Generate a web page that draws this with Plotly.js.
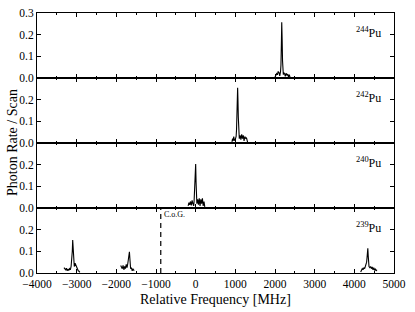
<!DOCTYPE html>
<html><head><meta charset="utf-8">
<script src="https://cdn.plot.ly/plotly-3.0.1.min.js"></script>
<style>html,body{margin:0;padding:0;background:#fff}#c{width:415px;height:312px}</style>
</head><body><div id="c"></div>
<script>
// Spectra (Relative Frequency [MHz], Photon Rate / Scan)
const pu244X = [2000,2020,2040,2060,2080,2100,2120,2140,2150,2160,2170,2180,2190,2200,2210,2220,2240,2260,2280,2300,2320,2340,2360,2380];
const pu244Y = [0.005,0.012,0.02,0.015,0.03,0.025,0.01,0.03,0.06,0.15,0.257,0.18,0.08,0.03,0.015,0.025,0.02,0.008,0.022,0.012,0.018,0.005,0.015,0.003];

const pu242X = [915,930,945,960,975,990,1005,1020,1030,1040,1050,1058,1066,1075,1085,1100,1120,1140,1160,1180,1200,1220,1240,1260,1280,1300,1310];
const pu242Y = [0.005,0.02,0.01,0.03,0.015,0.01,0.02,0.03,0.06,0.12,0.2,0.255,0.2,0.12,0.06,0.02,0.035,0.015,0.04,0.02,0.035,0.01,0.03,0.02,0.025,0.01,0.003];

const pu240X = [-190,-170,-150,-130,-110,-90,-70,-50,-40,-30,-20,-10,0,10,20,30,50,70,90,110,130,150,170,190,210,230];
const pu240Y = [0.01,0.025,0.015,0.03,0.012,0.035,0.02,0.01,0.03,0.06,0.1,0.16,0.203,0.12,0.05,0.02,0.04,0.015,0.045,0.01,0.04,0.02,0.045,0.01,0.03,0.005];

const pu239aX = [-3320,-3300,-3280,-3260,-3240,-3220,-3200,-3180,-3160,-3140,-3120,-3110,-3100,-3090,-3080,-3070,-3060,-3040,-3020,-3000,-2980,-2960,-2940,-2920];
const pu239aY = [0.025,0.02,0.015,0.022,0.01,0.018,0.012,0.02,0.015,0.03,0.06,0.1,0.152,0.1,0.06,0.04,0.03,0.045,0.035,0.02,0.015,0.01,0.008,0.003];
const pu239bX = [-1890,-1870,-1850,-1830,-1810,-1790,-1770,-1750,-1730,-1710,-1690,-1680,-1670,-1660,-1650,-1640,-1620,-1600,-1580,-1560,-1550];
const pu239bY = [0.035,0.03,0.02,0.035,0.015,0.03,0.02,0.04,0.025,0.045,0.07,0.085,0.098,0.07,0.04,0.02,0.025,0.01,0.02,0.012,0.015];
const pu239cX = [4160,4180,4200,4220,4240,4260,4280,4300,4310,4320,4330,4340,4350,4360,4370,4390,4410,4430,4450,4470,4490,4510,4530,4550,4570];
const pu239cY = [0.005,0.012,0.02,0.015,0.025,0.02,0.03,0.035,0.05,0.07,0.09,0.114,0.08,0.05,0.03,0.025,0.03,0.02,0.028,0.015,0.025,0.012,0.02,0.01,0.015];

const cogX = -880;
const isotopeLabels = ['<sup>244</sup>Pu','<sup>242</sup>Pu','<sup>240</sup>Pu','<sup>239</sup>Pu'];
const xTickVals = [-4000,-3000,-2000,-1000,0,1000,2000,3000,4000,5000];
const yTickTop = [0,0.1,0.2,0.3];
const yTickOther = [0,0.1,0.2];

const font = "Liberation Serif";
const line = {color:'#000', width:1.1};
function tr(x,y,n){return {x:x,y:y,xaxis:'x'+(n===1?'':n),yaxis:'y'+(n===1?'':n),type:'scatter',mode:'lines',line:line,hoverinfo:'skip',showlegend:false};}

const data = [
  tr(pu244X,pu244Y,1),
  tr(pu242X,pu242Y,2),
  tr(pu240X,pu240Y,3),
  tr(pu239aX,pu239aY,4),
  tr(pu239bX,pu239bY,4),
  tr(pu239cX,pu239cY,4),
  {x:[cogX,cogX],y:[0,0.3],xaxis:'x4',yaxis:'y4',type:'scatter',mode:'lines',line:{color:'#000',width:1.2,dash:'5px,4px'},showlegend:false,hoverinfo:'skip'}
];

const domains = [[0.75,1],[0.5,0.75],[0.25,0.5],[0,0.25]];
const layout = {
  width:415,height:312,
  margin:{l:37,r:21,t:13,b:39},
  paper_bgcolor:'#fff',plot_bgcolor:'#fff',
  font:{family:font,size:11,color:'#000'},
  showlegend:false,
  annotations:[]
};
for(let i=0;i<4;i++){
  const n=i+1, s=(n===1?'':n);
  layout['xaxis'+s] = {
    range:[-4000,5000], anchor:'y'+s, tickvals:xTickVals, showticklabels:(n===4),
    ticks:'inside', ticklen:4, tickwidth:1, tickcolor:'#000',
    minor:{dtick:500, ticks:'inside', ticklen:2, tickwidth:1, tickcolor:'#000'},
    showline:true, linecolor:'#000', linewidth:1, mirror:'allticks',
    showgrid:false, zeroline:false, tickfont:{family:font,size:11.5,color:'#000'}
  };
  if(n>1) layout['xaxis'+s].matches='x';
  layout['yaxis'+s] = {
    range:[0,0.3], domain:domains[i], anchor:'x'+s,
    tickvals:(n===1?yTickTop:yTickOther), tickformat:'.1f',
    ticks:'inside', ticklen:4, tickwidth:1, tickcolor:'#000',
    showline:true, linecolor:'#000', linewidth:1, mirror:'allticks',
    showgrid:false, zeroline:false, tickfont:{family:font,size:11.5,color:'#000'}
  };
  layout.annotations.push({xref:'x'+s,yref:'y'+s,x:4710,y:0.21,text:isotopeLabels[i],showarrow:false,xanchor:'right',yanchor:'middle',font:{family:font,size:12,color:'#000'}});
}
layout.annotations.push({xref:'x4',yref:'y4',x:cogX+40,y:0.27,text:'C.o.G.',showarrow:false,xanchor:'left',yanchor:'middle',font:{family:font,size:8,color:'#000'}});
layout.annotations.push({xref:'paper',yref:'paper',x:-0.07,y:0.5,text:'Photon Rate / Scan',textangle:-90,showarrow:false,xanchor:'center',yanchor:'middle',font:{family:font,size:14,color:'#000'}});
layout.annotations.push({xref:'paper',yref:'paper',x:0.5,y:-0.1,text:'Relative Frequency [MHz]',showarrow:false,xanchor:'center',yanchor:'middle',font:{family:font,size:14,color:'#000'}});

Plotly.newPlot('c',data,layout,{staticPlot:true,displayModeBar:false});
</script></body></html>
